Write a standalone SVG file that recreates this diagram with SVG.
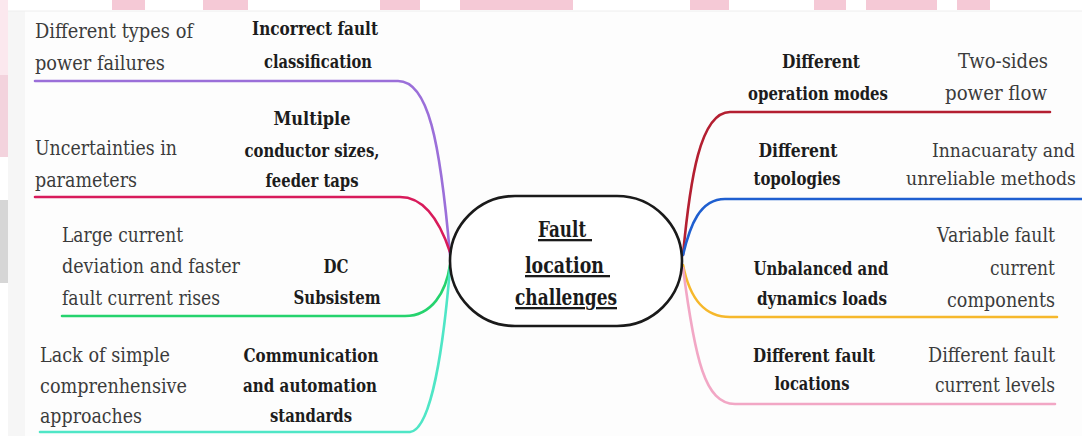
<svg xmlns="http://www.w3.org/2000/svg" width="1082" height="436" viewBox="0 0 1082 436">
  <style>
    text { font-family: "DejaVu Serif", serif; }
    .reg { font-size: 20px; fill: #3b3b3b; }
    .bold { font-size: 19px; font-weight: bold; fill: #1c1c1c; text-anchor: middle; }
    .end { text-anchor: end; }
    .tight { font-size: 18px; }
    .title { font-size: 23px; font-weight: bold; fill: #1a1a1a; text-decoration: underline; }
    .conn { fill: none; stroke-width: 2.6; stroke-linecap: round; }
    .wm { fill: #f5c9d6; }
  </style>

  <rect x="0" y="0" width="1082" height="436" fill="#ffffff"/>
  <rect x="8" y="11" width="1074" height="425" fill="#fdfdfd"/>
  <rect x="8" y="11" width="17" height="425" fill="#f6f6f6"/>
  <line x1="8" y1="11" x2="1082" y2="11" stroke="#eeeeee" stroke-width="1"/>
  <g id="watermark">
    <rect class="wm" x="112" y="0" width="33" height="10"/>
    <rect class="wm" x="203" y="0" width="45" height="10"/>
    <rect class="wm" x="380" y="0" width="40" height="10"/>
    <rect class="wm" x="460" y="0" width="113" height="10"/>
    <rect class="wm" x="690" y="0" width="39" height="10"/>
    <rect class="wm" x="814" y="0" width="32" height="10"/>
    <rect class="wm" x="866" y="0" width="71" height="10"/>
    <rect class="wm" x="957" y="0" width="33" height="10"/>
    <rect x="0" y="0" width="8" height="75" fill="#fbe8ee"/>
    <rect x="0" y="75" width="8" height="82" fill="#f3d3dd"/>
    <rect x="0" y="200" width="8" height="83" fill="#d6d6d6"/>
  </g>

  <g id="connectors">
    <path class="conn" stroke="#9b6fd9" d="M35,81 L398,81 C428,81 440,140 450,255"/>
    <path class="conn" stroke="#d81b5b" d="M35,197 L400,197 C425,197 440,222 450,252"/>
    <path class="conn" stroke="#25d36e" d="M62,316 L405,316 C432,316 446,292 450,265"/>
    <path class="conn" stroke="#4fe6c6" d="M40,432 L410,432 C432,430 444,340 450,268"/>
    <path class="conn" stroke="#b41f31" d="M683,255 C690,180 700,112 730,112 L1050,112"/>
    <path class="conn" stroke="#1f5fd0" d="M683,255 C690,225 700,199 725,199 L1082,199"/>
    <path class="conn" stroke="#f6b82c" d="M683,265 C690,300 705,317 730,317 L1057,317"/>
    <path class="conn" stroke="#f2a7c5" d="M683,268 C695,360 705,404 735,404 L1055,404"/>
  </g>

  <g id="center">
    <rect x="450" y="196" width="232" height="130" rx="65" ry="65" fill="#ffffff" stroke="#1a1a1a" stroke-width="2.6"/>
    <text class="title" x="538" y="237" textLength="54" lengthAdjust="spacingAndGlyphs">Fault&#160;</text>
    <text class="title" x="525" y="273" textLength="85" lengthAdjust="spacingAndGlyphs">location&#160;</text>
    <text class="title" x="515" y="305" textLength="102" lengthAdjust="spacingAndGlyphs">challenges</text>
  </g>

  <g id="incorrect-fault-classification">
    <text class="bold" x="315" y="35" textLength="126" lengthAdjust="spacingAndGlyphs">Incorrect fault</text>
    <text class="bold" x="318" y="68" textLength="108" lengthAdjust="spacingAndGlyphs">classification</text>
  </g>
  <g id="different-power-failures">
    <text class="reg" x="35" y="38" textLength="158" lengthAdjust="spacingAndGlyphs">Different types of</text>
    <text class="reg" x="35" y="70" textLength="130" lengthAdjust="spacingAndGlyphs">power failures</text>
  </g>

  <g id="multiple-conductor-sizes">
    <text class="bold" x="312" y="125" textLength="77" lengthAdjust="spacingAndGlyphs">Multiple</text>
    <text class="bold" x="312" y="157" textLength="135" lengthAdjust="spacingAndGlyphs">conductor sizes,</text>
    <text class="bold" x="312" y="187" textLength="93" lengthAdjust="spacingAndGlyphs">feeder taps</text>
  </g>
  <g id="uncertainties">
    <text class="reg" x="35" y="155" textLength="142" lengthAdjust="spacingAndGlyphs">Uncertainties in</text>
    <text class="reg" x="35" y="187" textLength="102" lengthAdjust="spacingAndGlyphs">parameters</text>
  </g>

  <g id="dc-subsistem">
    <text class="bold" x="336" y="273" textLength="25" lengthAdjust="spacingAndGlyphs">DC</text>
    <text class="bold" x="337" y="304" textLength="87" lengthAdjust="spacingAndGlyphs">Subsistem</text>
  </g>
  <g id="large-current-deviation">
    <text class="reg" x="62" y="242" textLength="121" lengthAdjust="spacingAndGlyphs">Large current</text>
    <text class="reg" x="62" y="273" textLength="178" lengthAdjust="spacingAndGlyphs">deviation and faster</text>
    <text class="reg" x="62" y="305" textLength="158" lengthAdjust="spacingAndGlyphs">fault current rises</text>
  </g>

  <g id="communication-standards">
    <text class="bold" x="311" y="362" textLength="135" lengthAdjust="spacingAndGlyphs">Communication</text>
    <text class="bold" x="310" y="392" textLength="134" lengthAdjust="spacingAndGlyphs">and automation</text>
    <text class="bold" x="311" y="422" textLength="82" lengthAdjust="spacingAndGlyphs">standards</text>
  </g>
  <g id="lack-of-approaches">
    <text class="reg" x="40" y="362" textLength="130" lengthAdjust="spacingAndGlyphs">Lack of simple</text>
    <text class="reg" x="40" y="393" textLength="147" lengthAdjust="spacingAndGlyphs">comprenhensive</text>
    <text class="reg" x="40" y="423" textLength="102" lengthAdjust="spacingAndGlyphs">approaches</text>
  </g>

  <g id="different-operation-modes">
    <text class="bold" x="821" y="68" textLength="78" lengthAdjust="spacingAndGlyphs">Different</text>
    <text class="bold" x="818" y="100" textLength="140" lengthAdjust="spacingAndGlyphs">operation modes</text>
  </g>
  <g id="two-sides-power-flow">
    <text class="reg end" x="1048" y="68" textLength="90" lengthAdjust="spacingAndGlyphs">Two-sides</text>
    <text class="reg end" x="1047" y="100" textLength="102" lengthAdjust="spacingAndGlyphs">power flow</text>
  </g>

  <g id="different-topologies">
    <text class="bold" x="798" y="157" textLength="79" lengthAdjust="spacingAndGlyphs">Different</text>
    <text class="bold" x="797" y="185" textLength="87" lengthAdjust="spacingAndGlyphs">topologies</text>
  </g>
  <g id="innacuaraty-methods">
    <text class="reg end tight" x="1075" y="157" textLength="143" lengthAdjust="spacingAndGlyphs">Innacuaraty and</text>
    <text class="reg end tight" x="1076" y="185" textLength="170" lengthAdjust="spacingAndGlyphs">unreliable methods</text>
  </g>

  <g id="unbalanced-loads">
    <text class="bold" x="821" y="275" textLength="135" lengthAdjust="spacingAndGlyphs">Unbalanced and</text>
    <text class="bold" x="822" y="305" textLength="130" lengthAdjust="spacingAndGlyphs">dynamics loads</text>
  </g>
  <g id="variable-fault-current">
    <text class="reg end" x="1055" y="242" textLength="118" lengthAdjust="spacingAndGlyphs">Variable fault</text>
    <text class="reg end" x="1055" y="275" textLength="65" lengthAdjust="spacingAndGlyphs">current</text>
    <text class="reg end" x="1055" y="307" textLength="108" lengthAdjust="spacingAndGlyphs">components</text>
  </g>

  <g id="different-fault-locations">
    <text class="bold" x="814" y="362" textLength="122" lengthAdjust="spacingAndGlyphs">Different fault</text>
    <text class="bold" x="812" y="390" textLength="75" lengthAdjust="spacingAndGlyphs">locations</text>
  </g>
  <g id="different-fault-levels">
    <text class="reg end" x="1055" y="362" textLength="127" lengthAdjust="spacingAndGlyphs">Different fault</text>
    <text class="reg end" x="1055" y="392" textLength="120" lengthAdjust="spacingAndGlyphs">current levels</text>
  </g>
</svg>
